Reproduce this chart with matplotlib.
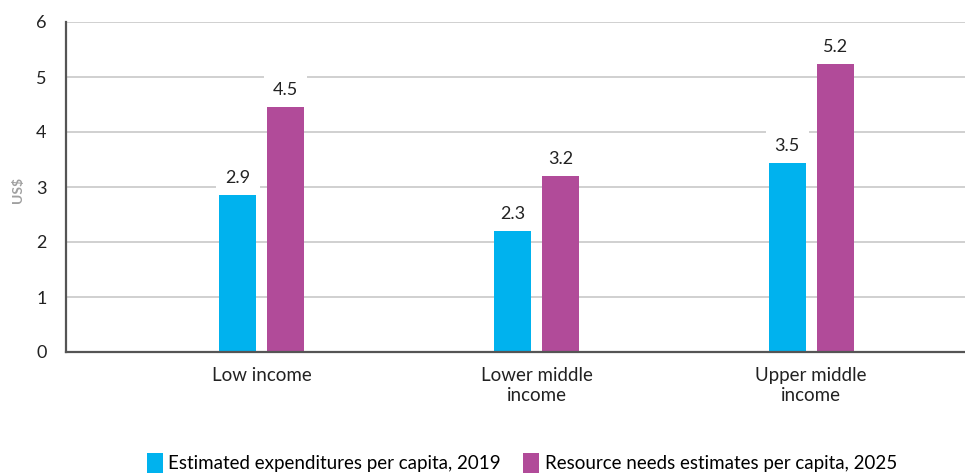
import matplotlib
matplotlib.use("Agg")
import matplotlib.pyplot as plt
import numpy as np

categories = ["Low income", "Lower middle\nincome", "Upper middle\nincome"]
expenditures_2019 = [2.87, 2.22, 3.45]
needs_2025 = [4.47, 3.22, 5.24]
labels_2019 = ["2.9", "2.3", "3.5"]
labels_2025 = ["4.5", "3.2", "5.2"]
series_names = ["Estimated expenditures per capita, 2019",
                "Resource needs estimates per capita, 2025"]
yticks = [0, 1, 2, 3, 4, 5, 6]

blue = "#00B2EE"
purple = "#B14B99"

plt.rcParams['font.family'] = ['Lato', 'DejaVu Sans']

fig = plt.figure(figsize=(9.65, 4.74), dpi=100)
ax = fig.add_axes([66/965, 1-352/474, 1-66/965, (352-22)/474])

x = np.arange(len(categories))
w = 0.135
off = 0.087
b1 = ax.bar(x - off, expenditures_2019, w, color=blue, label=series_names[0], zorder=3)
b2 = ax.bar(x + off, needs_2025, w, color=purple, label=series_names[1], zorder=3)

for bars, labs in ((b1, labels_2019), (b2, labels_2025)):
    for r, t in zip(bars, labs):
        ax.annotate(t, (r.get_x() + r.get_width()/2, r.get_height()),
                    xytext=(0, 6), textcoords="offset points",
                    ha="center", va="bottom", fontsize=13, color="#222222",
                    bbox=dict(boxstyle="square,pad=0.5", fc="white", ec="none"),
                    zorder=4)

ax.set_xlim(-0.713, 2.56)
ax.set_ylim(0, 6)
ax.set_yticks(yticks)
ax.set_yticklabels([str(v) for v in yticks], fontsize=13, color="#222222")
ax.set_xticks(x)
ax.set_xticklabels(categories, fontsize=13.5, color="#222222", linespacing=1.2)
ax.tick_params(axis="both", length=0)
ax.tick_params(axis="y", pad=14)
ax.tick_params(axis="x", pad=11)
ax.yaxis.grid(True, color="#c8c8c8", linewidth=1.2, zorder=0)
ax.set_axisbelow(True)
for s in ("top", "right"):
    ax.spines[s].set_visible(False)
for s in ("left", "bottom"):
    ax.spines[s].set_color("#555555")
    ax.spines[s].set_linewidth(1.6)
    ax.spines[s].set_zorder(5)

fig.text(18/965, 1-190/474, "US$", rotation=90, ha="center", va="center",
         fontsize=10, color="#a0a0a0", fontweight="bold")

fig.legend(handles=[b1, b2], labels=series_names, loc="center",
           bbox_to_anchor=(522/965, 1-463/474), ncol=2, frameon=False,
           fontsize=13.5, handlelength=0.85, handleheight=1.3, handletextpad=0.3,
           columnspacing=1.2, borderaxespad=0)

fig.savefig("out.png", dpi=100)
